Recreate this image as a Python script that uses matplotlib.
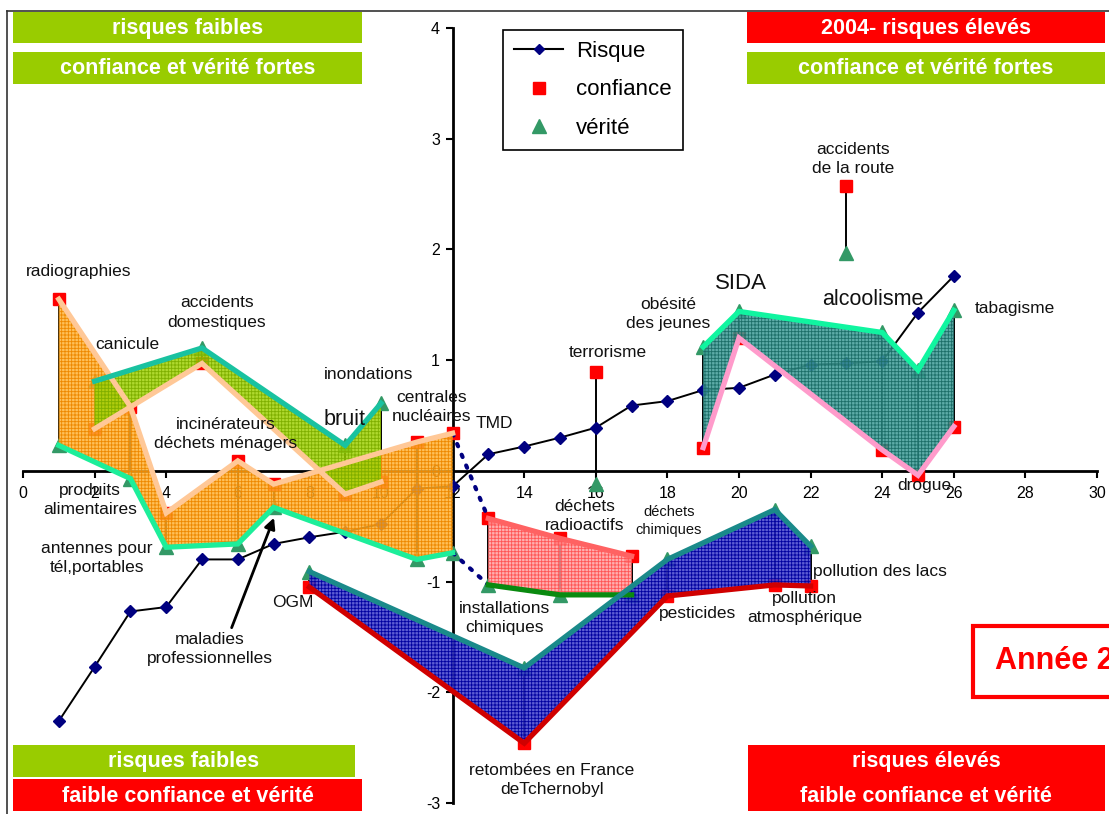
import matplotlib
matplotlib.use('Agg')
import matplotlib.pyplot as plt
from matplotlib.patches import Rectangle
from matplotlib.lines import Line2D

plt.rcParams['font.family'] = ['Liberation Sans', 'DejaVu Sans']
plt.rcParams['hatch.linewidth'] = 0.6
plt.rcParams['axes.unicode_minus'] = False

# ---------------- data ----------------
categories = ["radiographies", "canicule", "produits\nalimentaires",
              "antennes pour\ntél,portables", "accidents\ndomestiques",
              "incinérateurs\ndéchets ménagers", "maladies\nprofessionnelles",
              "OGM", "bruit", "inondations", "centrales\nnucléaires", "TMD",
              "installations\nchimiques", "retombées en France\ndeTchernobyl",
              "déchets\nradioactifs", "terrorisme", "déchets\nchimiques",
              "pesticides", "obésité\ndes jeunes", "SIDA",
              "pollution\natmosphérique", "pollution des lacs",
              "accidents\nde la route", "alcoolisme", "drogue", "tabagisme"]
rank = list(range(1, 27))
risque = [-2.26, -1.77, -1.27, -1.23, -0.80, -0.80, -0.66, -0.60, -0.55, -0.48,
          -0.16, -0.14, 0.15, 0.22, 0.30, 0.39, 0.59, 0.63, 0.73, 0.75,
          0.87, 0.96, 0.97, 0.99, 1.43, 1.76]
confiance = [1.55, 0.38, 0.58, -0.38, 0.97, 0.09, -0.12, -1.05, -0.21, -0.10,
             0.26, 0.34, -0.43, -2.46, -0.61, 0.89, -0.77, -1.13, 0.21, 1.20,
             -1.03, -1.04, 2.57, 0.19, -0.04, 0.40]
verite = [0.23, 0.81, -0.07, -0.69, 1.11, -0.66, -0.33, -0.91, 0.23, 0.61,
          -0.80, -0.74, -1.03, -1.78, -1.12, -0.12, -1.12, -0.80, 1.12, 1.44,
          -0.35, -0.68, 1.97, 1.25, 0.91, 1.45]

x_ticks = list(range(0, 31, 2))
y_ticks = [-3, -2, -1, 0, 1, 2, 3, 4]

# groups of categories (by rank)
group_orange = [1, 3, 4, 6, 7, 11, 12]
group_green = [2, 5, 9, 10]
group_red = [13, 15, 17]
group_blue = [8, 14, 18, 21, 22]
group_teal = [19, 20, 24, 25, 26]

# ---------------- styles / layout ----------------
W, H = 1109, 814
fig = plt.figure(figsize=(W / 100, H / 100), dpi=100)
fig.patch.set_facecolor('white')

x0p, x1p, y0p, y1p = 23, 1097, 803, 28   # pixel extents of axes
ax = fig.add_axes([x0p / W, 1 - y0p / H, (x1p - x0p) / W, (y0p - y1p) / H])
ax.set_xlim(0, 30)
ax.set_ylim(-3, 4)
ax.patch.set_alpha(0)

for s in ['top', 'right']:
    ax.spines[s].set_visible(False)
ax.spines['left'].set_position(('data', 12))
ax.spines['bottom'].set_position(('data', 0))
for s in ['left', 'bottom']:
    ax.spines[s].set_linewidth(2)
    ax.spines[s].set_zorder(2.2)
ax.set_xticks(x_ticks)
ax.set_yticks(y_ticks)
ax.tick_params(axis='both', direction='out', length=5, width=1.5,
               labelsize=11.5, pad=4)
ax.tick_params(axis='x', pad=6)


def vals(group, series):
    return [series[r - 1] for r in group]


# risque line
ax.plot(rank, risque, color='black', lw=1.4, marker='D', ms=6.5,
        mfc='#000080', mec='#000080', zorder=2.5)

# vertical high-low lines
for r, c, v in zip(rank, confiance, verite):
    ax.plot([r, r], [c, v], color='black', lw=1.4, zorder=2.4)

# markers
ax.plot(rank, confiance, ls='none', marker='s', ms=8.5, color='#FF0000',
        zorder=2.6)
ax.plot(rank, verite, ls='none', marker='^', ms=10, color='#339966',
        zorder=2.6)

# dotted links TMD -> installations chimiques
ax.plot([12, 13], [confiance[11], confiance[12]], ls=(0, (0.6, 2.2)),
        color='#000080', lw=3, dash_capstyle='round', zorder=2.7)
ax.plot([12, 13], [verite[11], verite[12]], ls=(0, (0.6, 2.2)),
        color='#000080', lw=3, dash_capstyle='round', zorder=2.7)

fills = [
    # group, face, hatch, top series, top color, bottom series, bottom color
    (group_orange, (1.0, 0.70, 0.20, 0.82), '#EE8800',
     confiance, '#FFC897', verite, '#1DEE9A'),
    (group_green, (0.62, 0.82, 0.0, 0.82), '#7FAF00',
     verite, '#19C2A0', confiance, '#FFC897'),
    (group_red, (1.0, 0.62, 0.62, 0.82), '#FF5555',
     confiance, '#FF6262', verite, '#0A8A10'),
    (group_blue, (0.25, 0.25, 0.80, 0.85), '#0000A0',
     verite, '#1A8A8A', confiance, '#D00000'),
    (group_teal, (0.25, 0.62, 0.60, 0.85), '#1C6E68',
     verite, '#10F5A0', confiance, '#FF9BCB'),
]
for grp, face, hcol, top, tcol, bot, bcol in fills:
    xs = grp
    ax.fill_between(xs, vals(grp, top), vals(grp, bot), facecolor=face,
                    edgecolor=hcol, hatch='+++++', linewidth=0, zorder=3)
    ax.plot(xs, vals(grp, top), color=tcol, lw=3.8, zorder=4,
            solid_joinstyle='miter')
    ax.plot(xs, vals(grp, bot), color=bcol, lw=3.8, zorder=4,
            solid_joinstyle='miter')

# category labels (data coords)
label_pos = [(1.54, 1.80), (2.90, 1.14), (1.87, -0.26), (2.07, -0.79),
             (5.42, 1.43), (5.67, 0.33), (5.22, -1.61), (7.54, -1.19),
             (8.99, 0.46), (9.64, 0.87), (11.42, 0.58), (13.18, 0.43),
             (13.46, -1.33), (14.78, -2.79), (15.70, -0.41), (16.34, 1.07),
             (18.04, -0.45), (18.85, -1.29), (18.02, 1.42), (20.06, 1.69),
             (21.84, -1.24), (23.94, -0.91), (23.18, 2.82), (23.74, 1.55),
             (25.17, -0.13), (27.71, 1.47)]
big = {"SIDA": 16, "alcoolisme": 15.5, "bruit": 15.5}
for name, (lx, ly) in zip(categories, label_pos):
    fs = big.get(name, 12.5)
    if name == "déchets\nchimiques":
        fs = 10.5
    ax.text(lx, ly, name, ha='center', va='center', fontsize=fs,
            linespacing=1.35, zorder=6, color='#111111')

# arrow to "maladies professionnelles"
ax.annotate('', xy=(7.04, -0.40), xytext=(5.80, -1.44),
            arrowprops=dict(arrowstyle='-|>', color='black', lw=2,
                            mutation_scale=16), zorder=6)

# legend
handles = [Line2D([], [], color='black', lw=1.5, marker='D', ms=5.5,
                  mfc='#000080', mec='#000080'),
           Line2D([], [], ls='none', marker='s', ms=8.5, color='#FF0000'),
           Line2D([], [], ls='none', marker='^', ms=10, color='#339966')]
leg = fig.legend(handles, ['Risque', 'confiance', 'vérité'],
                 loc='upper left', bbox_to_anchor=(503 / W, 1 - 30 / H),
                 bbox_transform=fig.transFigure, fontsize=16,
                 frameon=True, fancybox=False, edgecolor='black',
                 framealpha=1, borderpad=0.5, labelspacing=0.78,
                 handlelength=2.2, handletextpad=0.6, borderaxespad=0)
leg.get_frame().set_linewidth(1.2)
leg.set_zorder(10)

# overlay in pixel coordinates for boxes
ov = fig.add_axes([0, 0, 1, 1], zorder=20)
ov.set_xlim(0, W)
ov.set_ylim(H, 0)
ov.axis('off')
ov.patch.set_alpha(0)

GREEN = '#99CC00'
RED = '#FF0000'
BOXFS = 15.5
boxes = [((13, 12, 362, 43), GREEN, "risques faibles"),
         ((13, 52, 362, 84), GREEN, "confiance et vérité fortes"),
         ((747, 12, 1105, 43), RED, "2004- risques élevés"),
         ((747, 52, 1105, 84), GREEN, "confiance et vérité fortes"),
         ((13, 745, 355, 777), GREEN, "risques faibles"),
         ((13, 779, 362, 811), RED, "faible confiance et vérité"),
         ((748, 745, 1105, 811), RED, None)]
for (bx0, by0, bx1, by1), col, txt in boxes:
    ov.add_patch(Rectangle((bx0, by0), bx1 - bx0, by1 - by0,
                           facecolor=col, edgecolor='none'))
    if txt:
        ov.text((bx0 + bx1) / 2, (by0 + by1) / 2 + 1, txt, ha='center',
                va='center', color='white', fontsize=BOXFS, fontweight='bold')
ov.text(926, 762, "risques élevés", ha='center', va='center', color='white',
        fontsize=BOXFS, fontweight='bold')
ov.text(926, 796, "faible confiance et vérité", ha='center', va='center',
        color='white', fontsize=BOXFS, fontweight='bold')

ov.add_patch(Rectangle((973, 626), 160, 71, facecolor='white',
                       edgecolor=RED, lw=3))
ov.text(995, 661, "Année 2004", ha='left', va='center', color=RED,
        fontsize=22, fontweight='bold')

# chart-area frame (left / top)
ov.plot([7, 7], [11, 814], color='#333333', lw=1.2)
ov.plot([7, 1109], [11, 11], color='#333333', lw=1.2)

fig.savefig('out.png', dpi=100)
